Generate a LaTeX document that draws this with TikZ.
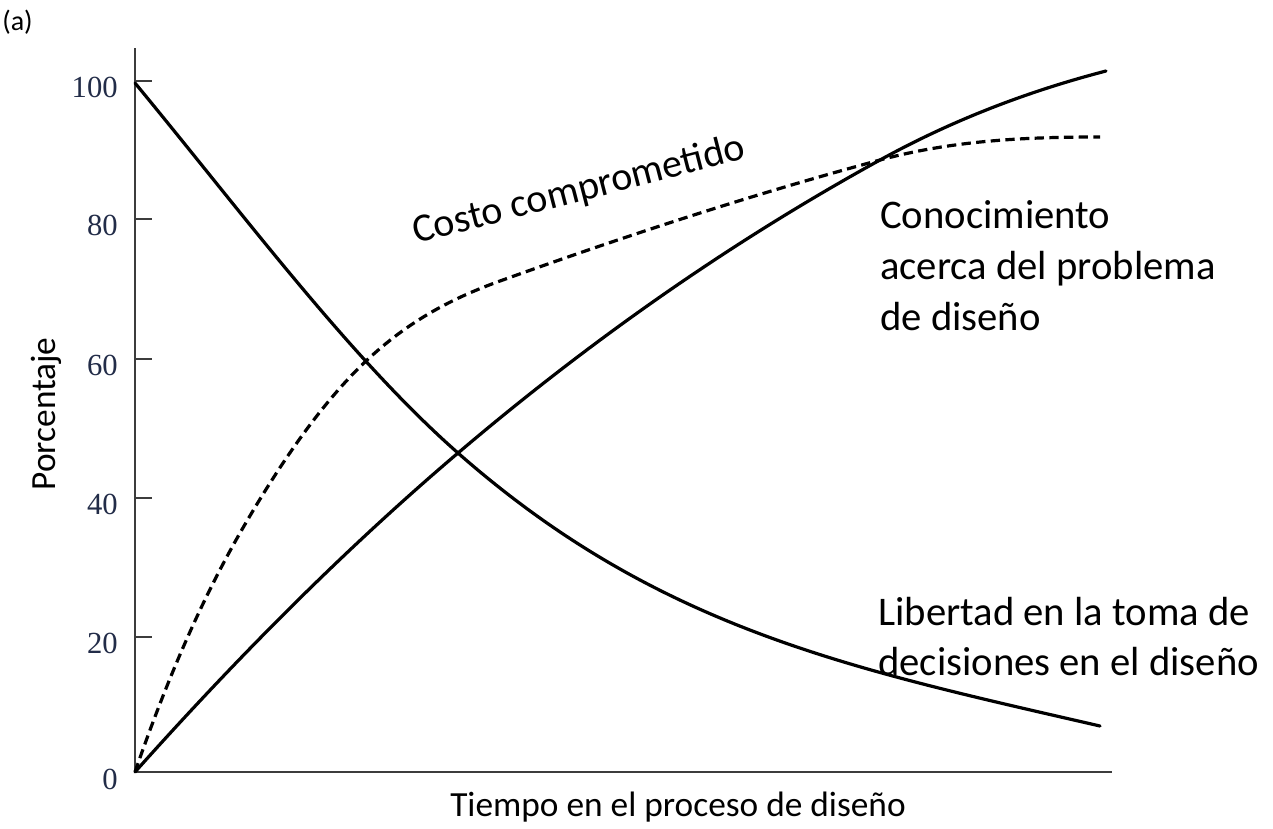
\documentclass[tikz,border=0pt]{standalone}
\usepackage{fontspec}
\setmainfont{Carlito}
\newfontfamily\ticknumfont{Liberation Serif}
\definecolor{ticknavy}{RGB}{34,44,72}
\definecolor{axisgray}{RGB}{60,60,60}
\begin{document}
\begin{tikzpicture}[x=0.75pt,y=-0.75pt,
  curve/.style={line width=2.4pt, black, line join=round, line cap=round},
  costcurve/.style={line width=2.4pt, black, dash pattern=on 7pt off 4pt},
  axisline/.style={line width=1.5pt, draw=axisgray},
  ticklabel/.style={font=\ticknumfont\fontsize{23}{23}\selectfont, text=ticknavy, anchor=base east, inner sep=0pt},
  curvelabel/.style={font=\fontsize{30.5}{38}\selectfont, anchor=base west, inner sep=0pt},
  axistitle/.style={font=\fontsize{26.5}{30}\selectfont, inner sep=0pt, anchor=base}]
\useasboundingbox (0,0) rectangle (1273,828);
\fill[white] (0,0) rectangle (1273,828);

% axes
\coordinate (ytop) at (135,48);
\coordinate (orig) at (135,772);
\coordinate (xend) at (1112,772);
\draw[axisline] (ytop) -- (orig) -- (xend);

% ticks and labels
\foreach \v/\yy in {100/81, 80/219, 60/359, 40/498, 20/637} {
  \coordinate (t\v) at (135,\yy);
  \coordinate (te\v) at (152,\yy);
  \draw[axisline] (t\v) -- (te\v);
  \node[ticklabel] (l\v) at (118,\yy+16) {\v};
}
\node[ticklabel] (l0) at (118,772+17) {0};

% Libertad en la toma de decisiones
\coordinate (libA) at (135,83);
\coordinate (cross1) at (458,453);
\coordinate (libB) at (1100,726);
\draw[curve] (libA) .. controls (243,213.7) and (350,358) .. (cross1)
                    .. controls (658,629) and (850,668.5) .. (libB);

% Conocimiento acerca del problema
\coordinate (cD) at (880,160);
\coordinate (conB) at (1106,71);
\draw[curve] (orig) .. controls (242.7,651.4) and (350.3,544.5) .. (cross1)
                    .. controls (598.7,333.4) and (739.3,237.4) .. (cD)
                    .. controls (955.3,118.6) and (1030.7,90.6) .. (conB);

% Costo comprometido
\coordinate (cA) at (240,533);
\coordinate (cB) at (365,362);
\coordinate (cC) at (500,281);
\coordinate (cE) at (1100,137);
\draw[costcurve] (orig) .. controls (170,670.5) and (205,594.3) .. (cA)
                        .. controls (281.7,460.1) and (323.3,401.6) .. (cB)
                        .. controls (410,319.3) and (455,297.2) .. (cC)
                        .. controls (626.7,235.4) and (753.3,194.2) .. (cD)
                        .. controls (953.3,140.2) and (1026.7,137) .. (cE);

% labels
\node[curvelabel, font=\fontsize{30}{38}\selectfont, rotate=14.5] (costo) at (416,244) {Costo comprometido};
\node[curvelabel] (con1) at (880,228) {Conocimiento};
\node[curvelabel] (con2) at (880,279) {acerca del problema};
\node[curvelabel] (con3) at (880,330) {de diseño};
\node[curvelabel] (lib1) at (878,625) {Libertad en la toma de};
\node[curvelabel] (lib2) at (878,675) {decisiones en el diseño};

\node[axistitle] (xtitle) at (678,816) {Tiempo en el proceso de diseño};
\node[axistitle, rotate=90] (ytitle) at (55,414) {Porcentaje};
\node[font=\fontsize{21}{24}\selectfont, anchor=base west, inner sep=0pt] (panel) at (2,30) {(a)};
\end{tikzpicture}
\end{document}
